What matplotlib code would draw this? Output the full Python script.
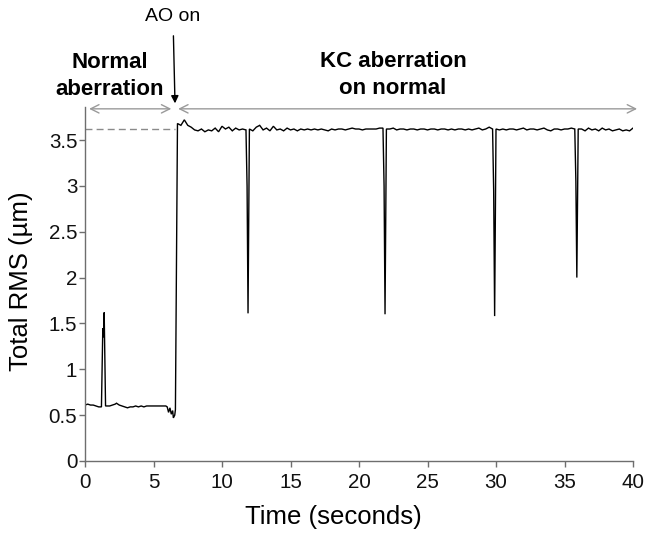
import numpy as np
import matplotlib
matplotlib.use("Agg")
import matplotlib.pyplot as plt

plt.rcParams['font.family'] = ['Liberation Sans', 'DejaVu Sans']

# ---- data ----
low_t = [0.0, 0.2, 0.4, 0.6, 0.8, 1.0, 1.2, 1.3, 1.35, 1.4, 1.5, 1.6, 1.8, 2.0, 2.2,
         2.3, 2.5, 2.7, 2.9, 3.1, 3.3, 3.5, 3.7, 3.9, 4.1, 4.3, 4.5, 4.7, 4.9, 5.1,
         5.3, 5.5, 5.7, 5.9, 6.0, 6.1, 6.2, 6.3, 6.4, 6.45, 6.55, 6.6]
low_v = [0.61, 0.62, 0.61, 0.61, 0.60, 0.59, 0.59, 1.45, 1.35, 1.62, 0.60, 0.60, 0.60, 0.61, 0.62,
         0.63, 0.61, 0.60, 0.59, 0.58, 0.59, 0.59, 0.60, 0.59, 0.60, 0.59, 0.60, 0.60, 0.60, 0.60,
         0.60, 0.60, 0.60, 0.60, 0.59, 0.53, 0.58, 0.51, 0.55, 0.47, 0.50, 0.56]

high_start = 6.75
high_step = 0.25
high_v = [3.68, 3.66, 3.72, 3.66, 3.64, 3.61, 3.60, 3.62, 3.59, 3.61,
          3.60, 3.63, 3.59, 3.65, 3.62, 3.64, 3.60, 3.63, 3.61, 3.62,
          3.61, 3.62, 3.60, 3.64, 3.66, 3.61, 3.63, 3.60, 3.65, 3.61,
          3.62, 3.60, 3.63, 3.61, 3.62, 3.60, 3.62, 3.61, 3.62, 3.61,
          3.62, 3.61, 3.62, 3.61, 3.60, 3.62, 3.61, 3.62, 3.62, 3.61,
          3.62, 3.63, 3.62, 3.62, 3.61, 3.62, 3.62, 3.62, 3.62, 3.63,
          3.63, 3.62, 3.62, 3.63, 3.61, 3.62, 3.62, 3.61, 3.62, 3.62,
          3.61, 3.62, 3.62, 3.61, 3.62, 3.62, 3.61, 3.62, 3.62, 3.61,
          3.62, 3.61, 3.62, 3.62, 3.61, 3.62, 3.61, 3.62, 3.63, 3.61,
          3.62, 3.64, 3.62, 3.62, 3.61, 3.62, 3.61, 3.62, 3.62, 3.61,
          3.62, 3.63, 3.61, 3.62, 3.62, 3.61, 3.62, 3.63, 3.61, 3.60,
          3.62, 3.62, 3.61, 3.62, 3.62, 3.63, 3.62, 3.62, 3.62, 3.60,
          3.63, 3.61, 3.62, 3.60, 3.63, 3.61, 3.62, 3.60, 3.61, 3.62,
          3.60, 3.61, 3.60, 3.63]

# dips: shoulder, bottom, shoulder
dip_t = [11.83, 11.90, 11.97,
         21.83, 21.90, 21.97,
         29.83, 29.90, 29.97,
         35.83, 35.90, 35.97]
dip_v = [3.00, 1.61, 3.00,
         3.00, 1.60, 3.00,
         2.95, 1.58, 2.95,
         3.05, 2.00, 3.05]

target_level = 3.62
target_end = 6.6

x_ticks = [0, 5, 10, 15, 20, 25, 30, 35, 40]
y_ticks = [0, 0.5, 1, 1.5, 2, 2.5, 3, 3.5]
y_tick_labels = ['0', '0.5', '1', '1.5', '2', '2.5', '3', '3.5']

# ---- assemble series ----
high_t = high_start + high_step * np.arange(len(high_v))
t = np.concatenate([low_t, high_t, dip_t])
v = np.concatenate([low_v, high_v, dip_v])
order = np.argsort(t, kind='stable')
t, v = t[order], v[order]

# ---- figure ----
W, H = 645, 533
fig = plt.figure(figsize=(W / 100, H / 100), dpi=100)
ax = fig.add_axes([85 / W, 1 - 461 / H, (633 - 85) / W, (461 - 107) / H])

ax.plot(t, v, color='black', lw=1.0, solid_joinstyle='miter')
ax.plot([0, target_end], [target_level, target_level], color='#8a8a8a', lw=1.0,
        dashes=(5, 3))

ax.set_xlim(0, 40)
ax.set_ylim(0, 3.86)
ax.set_xticks(x_ticks)
ax.set_xticklabels([str(x) for x in x_ticks])
ax.set_yticks(y_ticks)
ax.set_yticklabels(y_tick_labels)

for s in ['top', 'right']:
    ax.spines[s].set_visible(False)
for s in ['left', 'bottom']:
    ax.spines[s].set_color('#6e6e6e')
    ax.spines[s].set_linewidth(1.0)
ax.tick_params(axis='both', direction='out', length=4, width=1.0, color='#6e6e6e',
               labelsize=14.8, labelcolor='#111111')
ax.tick_params(axis='x', pad=5)
ax.tick_params(axis='y', pad=1.5)

ax.set_xlabel('Time (seconds)', fontsize=18.5, va='center')
ax.set_ylabel('Total RMS (µm)', fontsize=18.5, va='center')
ax.xaxis.set_label_coords(0.454, -0.158)
ax.yaxis.set_label_coords(-0.116, 0.507)

# span arrows
arr_kw = dict(arrowstyle='<->', color='#9a9a9a', lw=1.0, mutation_scale=15,
              shrinkA=0, shrinkB=0)
ax.annotate('', xy=(0.3, 3.84), xytext=(6.3, 3.84), arrowprops=arr_kw,
            annotation_clip=False)
ax.annotate('', xy=(6.8, 3.84), xytext=(40.3, 3.84), arrowprops=arr_kw,
            annotation_clip=False)

# AO on marker
ax.annotate('AO on', xy=(6.57, 3.90), xytext=(6.42, 4.85), ha='center', va='center',
            fontsize=14, annotation_clip=False,
            arrowprops=dict(arrowstyle='-|>', color='black', lw=1.0,
                            mutation_scale=11, shrinkA=6, shrinkB=0))

ax.text(1.82, 4.20, 'Normal\naberration', ha='center', va='center', fontsize=16,
        fontweight='bold', linespacing=1.4)
ax.text(22.48, 4.21, 'KC aberration\non normal', ha='center', va='center', fontsize=16,
        fontweight='bold', linespacing=1.4)

fig.savefig('out.png', dpi=100)
